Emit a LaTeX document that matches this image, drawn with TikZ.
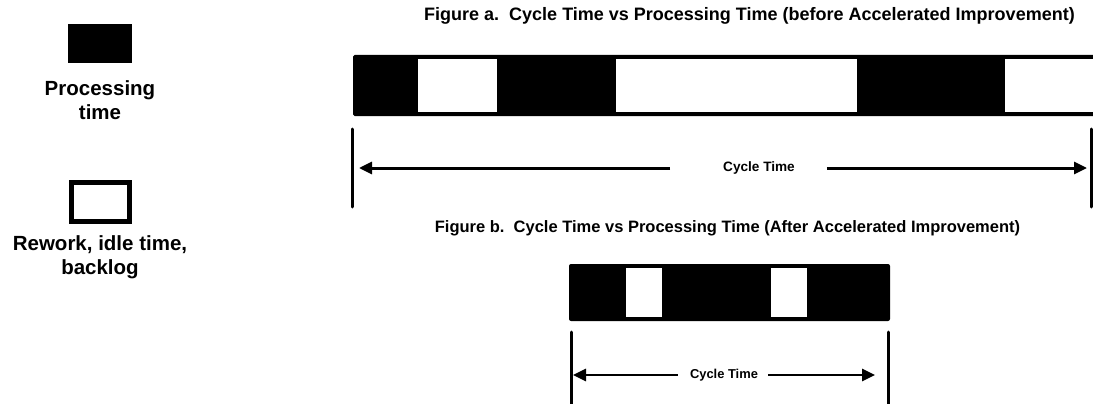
\documentclass[tikz,border=0pt]{standalone}
\usepackage{fontspec}
\setmainfont{Liberation Sans}
\usetikzlibrary{arrows.meta}

\tikzset{
  title/.style={font=\bfseries\fontsize{#1}{#1}\selectfont, inner sep=0pt},
  legendtext/.style={font=\bfseries\fontsize{20.5}{24}\selectfont, align=center, inner sep=0pt, anchor=north},
  cyclelabel/.style={font=\bfseries\fontsize{#1}{#1}\selectfont, inner sep=0pt},
  bound/.style={line width=3pt, line cap=round},
  dimarrow/.style={line width=#1, -{Triangle[length=13pt,width=12pt]}},
  idle/.style={fill=white},
}

\begin{document}
\begin{tikzpicture}[x=1pt,y=-1pt]
\clip (0,0) rectangle (1093,404);
\fill[white] (0,0) rectangle (1093,404);

% ---- legend ----
\fill (68,24) rectangle (132,63);
\node[legendtext] (lp) at (100,80) {Processing\\time};
\draw[line width=5pt] (71.5,182.5) rectangle (129.5,221.5);
\node[legendtext] (lr) at (100,235) {Rework, idle time,\\backlog};

% ---- figure a ----
\node[title=18] (ta) at (749.5,16) {Figure a.\ \ Cycle Time vs Processing Time (before Accelerated Improvement)};
\fill[rounded corners=1.5pt] (353,55) rectangle (1110,116);
\fill[idle] (418,59.5) rectangle (497,111.5);
\fill[idle] (616,59.5) rectangle (857,111.5);
\fill[idle] (1005,59.5) rectangle (1110,111.5);

\coordinate (aLt) at (352,129);
\coordinate (aLb) at (352,207);
\coordinate (aRt) at (1091.5,129);
\coordinate (aRb) at (1091.5,207);
\draw[bound] (aLt) -- (aLb);
\draw[bound] (aRt) -- (aRb);
\coordinate (aL) at (359,168);
\coordinate (aR) at (1087,168);
\node[cyclelabel=13.6] (cta) at (759,168) {Cycle Time};
\draw[dimarrow=3pt] ([xshift=-53pt]cta.west) -- (aL);
\draw[dimarrow=3pt] ([xshift=32pt]cta.east) -- (aR);

% ---- figure b ----
\node[title=16.5] (tb) at (727.5,228) {Figure b.\ \ Cycle Time vs Processing Time (After Accelerated Improvement)};
\fill[rounded corners=2pt] (569,264) rectangle (890,321);
\fill[idle] (626,268) rectangle (662,317);
\fill[idle] (771,268) rectangle (807,317);

\coordinate (bLt) at (571,332);
\coordinate (bLb) at (571,410);
\coordinate (bRt) at (888,332);
\coordinate (bRb) at (888,410);
\draw[bound] (bLt) -- (bLb);
\draw[bound] (bRt) -- (bRb);
\coordinate (bL) at (573,375);
\coordinate (bR) at (875,375);
\node[cyclelabel=12.9] (ctb) at (724,375) {Cycle Time};
\draw[dimarrow=2.6pt] ([xshift=-12pt]ctb.west) -- (bL);
\draw[dimarrow=2.6pt] ([xshift=10pt]ctb.east) -- (bR);
\end{tikzpicture}
\end{document}
